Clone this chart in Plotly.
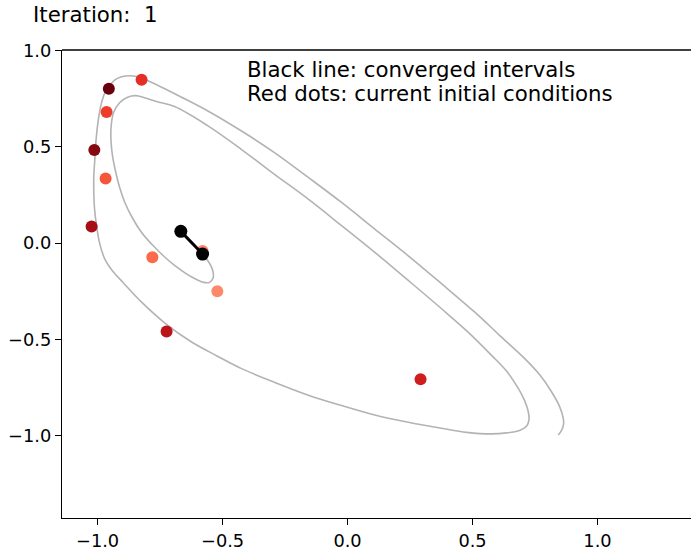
import plotly.graph_objects as go

# Trajectory traced through phase space (x, y), in drawing order
traj_x = [-0.580, -0.564, -0.548, -0.538, -0.538, -0.552, -0.576, -0.612, -0.652, -0.692,
          -0.736, -0.784, -0.824, -0.860, -0.891, -0.912, -0.928, -0.940, -0.946, -0.946,
          -0.936, -0.912, -0.880, -0.848, -0.812, -0.764, -0.692, -0.560, -0.424, -0.292,
          -0.157, -0.024, 0.109, 0.243, 0.376, 0.480, 0.576, 0.636, 0.683, 0.708,
          0.723, 0.726, 0.716, 0.688, 0.636, 0.576, 0.476, 0.376, 0.243, 0.109,
          -0.024, -0.157, -0.291, -0.424, -0.524, -0.624, -0.732, -0.824, -0.900, -0.940,
          -0.971, -0.992, -1.004, -1.012, -1.015, -1.015, -1.011, -1.006, -0.997, -0.986,
          -0.971, -0.952, -0.931, -0.904, -0.871, -0.844, -0.824, -0.744, -0.664, -0.557,
          -0.424, -0.291, -0.157, -0.024, 0.109, 0.243, 0.376, 0.509, 0.608, 0.709,
          0.768, 0.816, 0.848, 0.863, 0.864, 0.856, 0.843]
traj_y = [-0.057, -0.083, -0.114, -0.150, -0.181, -0.204, -0.204, -0.184, -0.153, -0.116,
          -0.067, -0.005, 0.055, 0.129, 0.211, 0.290, 0.372, 0.450, 0.523, 0.605,
          0.678, 0.729, 0.758, 0.766, 0.755, 0.735, 0.709, 0.610, 0.486, 0.357,
          0.228, 0.091, -0.048, -0.194, -0.341, -0.460, -0.583, -0.665, -0.755, -0.817,
          -0.876, -0.916, -0.952, -0.973, -0.986, -0.991, -0.983, -0.962, -0.931, -0.893,
          -0.844, -0.790, -0.724, -0.652, -0.585, -0.514, -0.414, -0.307, -0.202, -0.145,
          -0.083, 0.000, 0.089, 0.176, 0.262, 0.352, 0.435, 0.538, 0.641, 0.719,
          0.780, 0.817, 0.848, 0.864, 0.869, 0.865, 0.857, 0.810, 0.758, 0.685,
          0.582, 0.469, 0.341, 0.211, 0.073, -0.066, -0.211, -0.359, -0.479, -0.600,
          -0.683, -0.772, -0.848, -0.910, -0.942, -0.973, -0.997]

# Current initial conditions and their colours
init_x = [-0.824, -0.955, -0.964, -1.013, -0.968, -1.024, -0.781, -0.580, -0.521, -0.724, 0.292]
init_y = [0.848, 0.802, 0.681, 0.483, 0.335, 0.086, -0.074, -0.041, -0.250, -0.459, -0.707]
init_colors = ["#e32f27", "#67000d", "#ef3b2c", "#860811", "#f6553c", "#a50f15",
               "#fb6b4b", "#fc8464", "#fc8a6a", "#bb151a", "#d01d1f"]

# Converged interval endpoints
conv_x = [-0.667, -0.580]
conv_y = [0.061, -0.057]

x_ticks = [-1.0, -0.5, 0.0, 0.5, 1.0]
x_tick_text = ["\u22121.0", "\u22120.5", "0.0", "0.5", "1.0"]
y_ticks = [-1.0, -0.5, 0.0, 0.5, 1.0]
y_tick_text = ["\u22121.0", "\u22120.5", "0.0", "0.5", "1.0"]

FONT = "DejaVu Sans"

fig = go.Figure()
fig.add_trace(go.Scatter(
    x=traj_x, y=traj_y, mode="lines",
    line=dict(color="#b3b3b3", width=1.6, shape="spline", smoothing=1.0),
    hoverinfo="skip", showlegend=False))
fig.add_trace(go.Scatter(
    x=init_x, y=init_y, mode="markers",
    marker=dict(color=init_colors, size=12, line=dict(width=0)),
    showlegend=False))
fig.add_trace(go.Scatter(
    x=conv_x, y=conv_y, mode="lines+markers",
    line=dict(color="black", width=3),
    marker=dict(color="black", size=13, line=dict(width=0)),
    showlegend=False))

fig.add_annotation(x=-0.412, y=0.903, xref="x", yref="y", xanchor="left", yanchor="middle",
                   text="Black line: converged intervals", showarrow=False,
                   font=dict(family=FONT, size=21.3, color="black"))
fig.add_annotation(x=-0.412, y=0.779, xref="x", yref="y", xanchor="left", yanchor="middle",
                   text="Red dots: current initial conditions", showarrow=False,
                   font=dict(family=FONT, size=21.3, color="black"))
fig.add_annotation(x=-0.049, y=1.0766, xref="paper", yref="paper", xanchor="left",
                   yanchor="middle", text="Iteration:\u00a0\u00a01", showarrow=False,
                   font=dict(family=FONT, size=21.3, color="black"))

axis_common = dict(showgrid=False, zeroline=False, showline=True, linecolor="black",
                   linewidth=1.3, ticks="outside", ticklen=6, tickwidth=1.3,
                   tickcolor="black", tickfont=dict(family=FONT, size=17.8, color="black"))
fig.update_xaxes(range=[-1.1424, 1.374], tickvals=x_ticks, ticktext=x_tick_text,
                 mirror=False, **axis_common)
fig.update_yaxes(range=[-1.428, 1.003], tickvals=y_ticks, ticktext=y_tick_text,
                 **axis_common)

# Top spine only (no right spine in view)
fig.add_shape(type="line", xref="paper", yref="paper", x0=0, x1=1, y0=1, y1=1,
              line=dict(color="black", width=1.3))

fig.update_layout(
    width=691, height=551,
    margin=dict(l=62, r=0, t=50, b=31),
    plot_bgcolor="white", paper_bgcolor="white",
    font=dict(family=FONT),
)

fig.write_html("out.html")
